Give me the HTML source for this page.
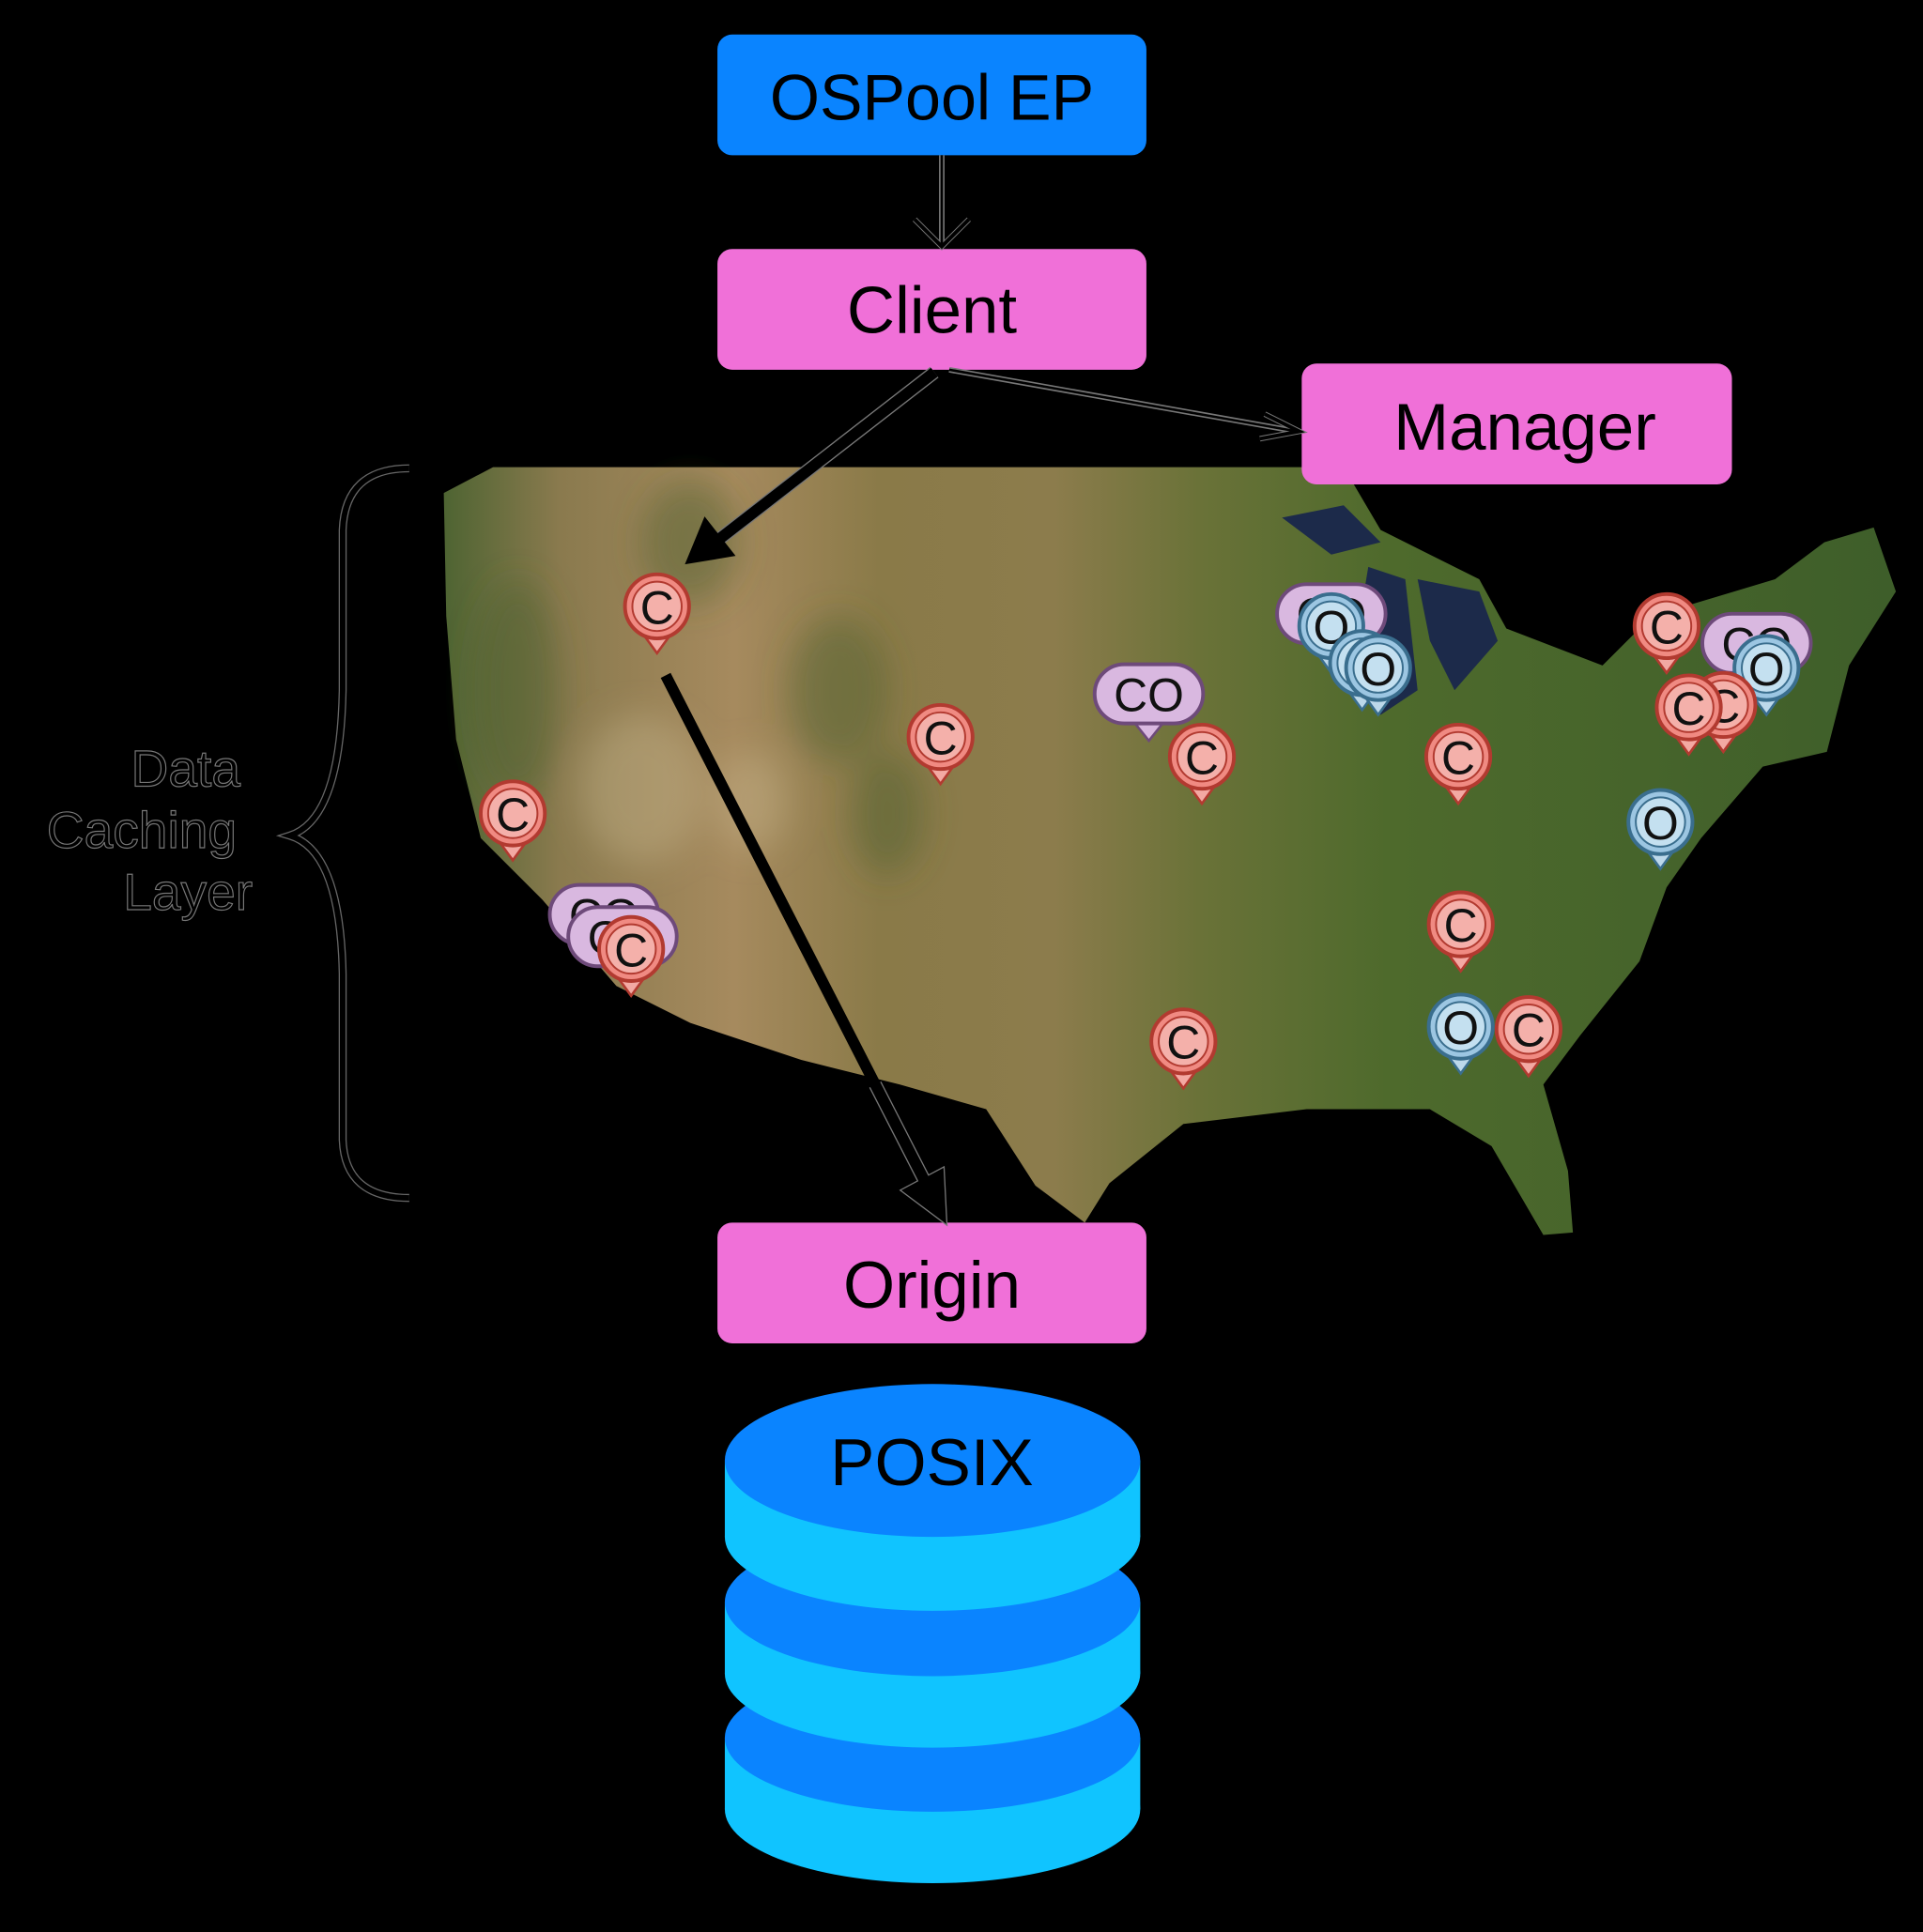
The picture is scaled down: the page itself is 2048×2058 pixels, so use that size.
<!DOCTYPE html>
<html><head><meta charset="utf-8"><style>
html,body{margin:0;padding:0;background:#000;}
svg{display:block;}
text{font-family:"Liberation Sans",sans-serif;}
</style></head><body>
<svg width="2048" height="2058" viewBox="0 0 1560 1567.6" xmlns="http://www.w3.org/2000/svg">
<defs>
<linearGradient id="mg" x1="0" y1="0" x2="1" y2="0">
<stop offset="0" stop-color="#4e6432"/>
<stop offset="0.08" stop-color="#8a7a4e"/>
<stop offset="0.2" stop-color="#a68a5e"/>
<stop offset="0.3" stop-color="#8a7a48"/>
<stop offset="0.42" stop-color="#8c7c4c"/>
<stop offset="0.52" stop-color="#6a7238"/>
<stop offset="0.65" stop-color="#4e6a2c"/>
<stop offset="1" stop-color="#3e5e2a"/>
</linearGradient>
<filter id="bl"><feGaussianBlur stdDeviation="14"/></filter>
<g id="pc"><path d="M-16,16 L0,38 L16,16 Z" fill="#f3a9a3" stroke="#b23a30" stroke-width="2"/><circle r="26" fill="#f08a82" stroke="#b23a30" stroke-width="3"/><circle r="20" fill="#f4b0aa" stroke="#b23a30" stroke-width="1.5"/><text y="14" text-anchor="middle" font-size="38" fill="#111">C</text></g>
<g id="po"><path d="M-16,16 L0,38 L16,16 Z" fill="#bcd8ea" stroke="#3a6e8e" stroke-width="2"/><circle r="26" fill="#9cc6e2" stroke="#3a6e8e" stroke-width="3"/><circle r="20" fill="#c4e0f0" stroke="#3a6e8e" stroke-width="1.5"/><text y="14" text-anchor="middle" font-size="38" fill="#111">O</text></g>
<g id="pco"><path d="M-16,18 L0,38 L16,18 Z" fill="#d9b8e0" stroke="#6e4a7a" stroke-width="2"/><rect x="-44" y="-24" width="88" height="48" rx="24" fill="#d9b8e0" stroke="#6e4a7a" stroke-width="3"/><text y="14" text-anchor="middle" font-size="38" fill="#111">CO</text></g>
</defs>
<rect width="1560" height="1568" fill="#000"/>
<!-- map -->
<path d="M360,400 L400,379 L1090,379 L1120,430 L1200,470 L1222,510 L1300,540 L1340,500 L1440,470 L1480,440 L1520,428 L1538,480 L1500,540 L1482,610 L1430,622 L1380,680 L1352,720 L1330,780 L1282,840 L1252,880 L1272,950 L1276,1000 L1252,1002 L1210,930 L1160,900 L1060,900 L960,912 L900,960 L880,992 L840,962 L800,900 L730,880 L650,860 L560,830 L500,800 L440,730 L390,680 L370,600 L362,500 Z" fill="url(#mg)"/>
<g filter="url(#bl)">
<g fill="#4a5e30" opacity="0.45">
<ellipse cx="560" cy="440" rx="40" ry="50"/><ellipse cx="680" cy="560" rx="40" ry="60"/><ellipse cx="720" cy="660" rx="30" ry="50"/><ellipse cx="420" cy="560" rx="35" ry="90"/>
</g>
<g fill="#d8c8a0" opacity="0.3"><ellipse cx="520" cy="640" rx="50" ry="60"/><ellipse cx="610" cy="650" rx="30" ry="40"/></g>
</g>
<path d="M1040,420 L1090,410 L1120,440 L1080,450 Z M1110,460 L1140,470 L1150,560 L1120,580 L1100,520 Z M1150,470 L1200,480 L1215,520 L1180,560 L1160,520 Z" fill="#1c2a4a"/>
<!-- brace -->
<path d="M332,380 Q280,380 278,430 L278,560 Q276,665 235,678 Q276,690 278,790 L278,925 Q280,972 332,972" fill="none" stroke="#666" stroke-width="6.5"/>
<path d="M332,380 Q280,380 278,430 L278,560 Q276,665 235,678 Q276,690 278,790 L278,925 Q280,972 332,972" fill="none" stroke="#000" stroke-width="4.5"/>
<g font-size="42" fill="#000" stroke="#777" stroke-width="0.9" text-anchor="end">
<text x="195" y="638">Data</text>
<text x="192" y="688">Caching</text>
<text x="205" y="738">Layer</text>
</g>
<!-- pins -->
<use href="#pc" x="533" y="492"/>
<use href="#pc" x="763" y="598"/>
<use href="#pc" x="416" y="660"/>
<use href="#pco" x="490" y="742"/>
<use href="#pco" x="505" y="760"/>
<use href="#pc" x="512" y="770"/>
<use href="#pco" x="932" y="563"/>
<use href="#pc" x="975" y="614"/>
<use href="#pco" x="1080" y="498"/>
<use href="#po" x="1080" y="508"/>
<use href="#po" x="1105" y="538"/>
<use href="#po" x="1118" y="542"/>
<use href="#pc" x="1183" y="614"/>
<use href="#pc" x="1352" y="508"/>
<use href="#pco" x="1425" y="522"/>
<use href="#po" x="1433" y="542"/>
<use href="#pc" x="1398" y="572"/>
<use href="#pc" x="1370" y="574"/>
<use href="#po" x="1347" y="667"/>
<use href="#pc" x="1185" y="750"/>
<use href="#po" x="1185" y="833"/>
<use href="#pc" x="1240" y="835"/>
<use href="#pc" x="960" y="845"/>
<!-- boxes -->
<rect x="582" y="28" width="348" height="98" rx="12" fill="#0a84ff"/>
<text x="756" y="97" text-anchor="middle" font-size="52" fill="#000">OSPool EP</text>
<rect x="582" y="202" width="348" height="98" rx="12" fill="#f070d8"/>
<text x="756" y="270" text-anchor="middle" font-size="54" fill="#000">Client</text>
<rect x="1056" y="295" width="349" height="98" rx="12" fill="#f070d8"/>
<text x="1237" y="365" text-anchor="middle" font-size="54" fill="#000">Manager</text>
<rect x="582" y="992" width="348" height="98" rx="12" fill="#f070d8"/>
<text x="756" y="1061" text-anchor="middle" font-size="54" fill="#000">Origin</text>
<!-- arrows -->
<g stroke="#777" fill="none" stroke-width="4.5">
<line x1="764" y1="126" x2="764" y2="198"/>
<path d="M742,178 L764,200 L786,178"/>
<line x1="770" y1="300" x2="1052" y2="350"/>
<path d="M1026,336 L1054,350 L1022,356"/>
<line x1="758" y1="302" x2="575" y2="444" stroke-width="11"/>
<line x1="710" y1="880" x2="752" y2="962" stroke-width="11"/>
<path d="M766,990 L764,950 L734,966 Z" stroke-width="5"/>
</g>
<g stroke="#000" fill="none">
<line x1="764" y1="126" x2="764" y2="198" stroke-width="2"/>
<path d="M742,178 L764,200 L786,178" stroke-width="3"/>
<line x1="770" y1="300" x2="1052" y2="350" stroke-width="2"/>
<path d="M1026,336 L1054,350 L1022,356" stroke-width="3"/>
<line x1="758" y1="302" x2="575" y2="444" stroke-width="9"/>
<line x1="540" y1="548" x2="752" y2="962" stroke-width="9"/>
<line x1="764" y1="1090" x2="764" y2="1110" stroke-width="2"/>
</g>
<path d="M558,456 L572,422 L594,450 Z" fill="#000" stroke="#000" stroke-width="3"/>
<path d="M766,990 L764,950 L734,966 Z" fill="#000" stroke="#000" stroke-width="3"/>
<path d="M745,1100 L764,1120 L783,1100 Z" fill="#000"/>
<!-- cylinder -->
<rect x="588" y="1410" width="337" height="58" fill="#10c4ff"/>
<ellipse cx="756.5" cy="1468" rx="168.5" ry="60" fill="#10c4ff"/>
<ellipse cx="756.5" cy="1410" rx="168.5" ry="60" fill="#0a84ff"/>
<rect x="588" y="1300" width="337" height="58" fill="#10c4ff"/>
<ellipse cx="756.5" cy="1358" rx="168.5" ry="60" fill="#10c4ff"/>
<ellipse cx="756.5" cy="1300" rx="168.5" ry="60" fill="#0a84ff"/>
<rect x="588" y="1185" width="337" height="62" fill="#10c4ff"/>
<ellipse cx="756.5" cy="1247" rx="168.5" ry="60" fill="#10c4ff"/>
<ellipse cx="756.5" cy="1185" rx="168.5" ry="62" fill="#0a84ff"/>
<text x="756" y="1205" text-anchor="middle" font-size="54" fill="#000">POSIX</text>
</svg>
</body></html>
